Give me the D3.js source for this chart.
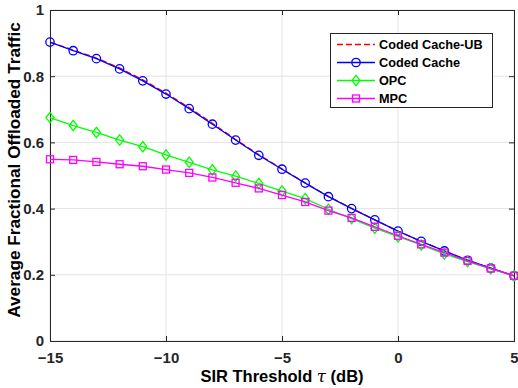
<!DOCTYPE html>
<html><head><meta charset="utf-8">
<script src="https://cdn.jsdelivr.net/npm/d3@7"></script>
<style>body{margin:0;background:#fff}svg{display:block;font-family:"Liberation Sans",Arial,sans-serif}</style>
</head><body>
<svg id="c" width="518" height="388"></svg>
<script>
const xs = [-15,-14,-13,-12,-11,-10,-9,-8,-7,-6,-5,-4,-3,-2,-1,0,1,2,3,4,5];
const codedUB = [0.903,0.879,0.855,0.825,0.789,0.749,0.705,0.658,0.609,0.563,0.520,0.478,0.437,0.401,0.366,0.332,0.301,0.272,0.244,0.220,0.197];
const coded   = [0.903,0.877,0.853,0.822,0.786,0.746,0.702,0.655,0.607,0.561,0.519,0.477,0.436,0.400,0.366,0.332,0.301,0.272,0.244,0.220,0.197];
const opc     = [0.675,0.651,0.630,0.607,0.587,0.562,0.540,0.517,0.498,0.476,0.453,0.430,0.398,0.370,0.341,0.315,0.290,0.263,0.240,0.218,0.197];
const mpc     = [0.549,0.547,0.541,0.534,0.528,0.518,0.508,0.494,0.478,0.461,0.441,0.420,0.394,0.372,0.345,0.318,0.292,0.267,0.242,0.219,0.197];
const xTicks = [-15,-10,-5,0,5];
const yTicks = [0,0.2,0.4,0.6,0.8,1];
const yTickLabels = ["0","0.2","0.4","0.6","0.8","1"];
const seriesNames = ["Coded Cache-UB","Coded Cache","OPC","MPC"];
const seriesColors = ["#ff0000","#0000ff","#00ff00","#ff00ff"];

const svg = d3.select("#c");
const L=50,R=514,T=10,B=341;
const x = d3.scaleLinear().domain([-15,5]).range([L,R]);
const y = d3.scaleLinear().domain([0,1]).range([B,T]);

// grid
const g = svg.append("g");
xTicks.forEach(t=>g.append("line").attr("x1",x(t)).attr("x2",x(t)).attr("y1",T).attr("y2",B).attr("stroke","#e3e3e3").attr("stroke-width",1));
yTicks.forEach(t=>g.append("line").attr("x1",L).attr("x2",R).attr("y1",y(t)).attr("y2",y(t)).attr("stroke","#e3e3e3").attr("stroke-width",1));

// axes
const ax = "#262626";
const xb = svg.append("g").attr("transform",`translate(0,${B})`).call(d3.axisBottom(x).tickValues(xTicks).tickSize(-5).tickPadding(9).tickFormat(d3.format("d")));
const xt = svg.append("g").attr("transform",`translate(0,${T})`).call(d3.axisTop(x).tickValues(xTicks).tickSize(-5).tickFormat(""));
const yl = svg.append("g").attr("transform",`translate(${L},0)`).call(d3.axisLeft(y).tickValues(yTicks).tickSize(-5).tickPadding(6).tickFormat((d,i)=>yTickLabels[i]));
const yr = svg.append("g").attr("transform",`translate(${R},0)`).call(d3.axisRight(y).tickValues(yTicks).tickSize(-5).tickFormat(""));
[xb,xt,yl,yr].forEach(a=>{
  a.select(".domain").attr("stroke",ax).attr("stroke-width",1);
  a.selectAll(".tick line").attr("stroke",ax);
  a.selectAll("text").attr("fill",ax).style("font-size","15px").style("font-weight","bold").style("font-family","'Liberation Sans',Arial,sans-serif");
});
xb.selectAll("text").attr("dy","0.85em");

// series
const data = [codedUB,coded,opc,mpc];
const line = d3.line().x((d,i)=>x(xs[i])).y(d=>y(d));
function marker(sel,k,cx,cy){
  const c=seriesColors[k];
  if(k===1) sel.append("circle").attr("cx",cx).attr("cy",cy).attr("r",4.2).attr("fill","none").attr("stroke",c).attr("stroke-width",1.3);
  if(k===2) sel.append("path").attr("d",`M${cx},${cy-5.2}L${cx+4},${cy}L${cx},${cy+5.2}L${cx-4},${cy}Z`).attr("fill","none").attr("stroke",c).attr("stroke-width",1.3);
  if(k===3) sel.append("rect").attr("x",cx-3.5).attr("y",cy-3.5).attr("width",7).attr("height",7).attr("fill","none").attr("stroke",c).attr("stroke-width",1.3);
}
[0,1,2,3].forEach(k=>{
  svg.append("path").datum(data[k]).attr("d",line).attr("fill","none")
    .attr("stroke",seriesColors[k]).attr("stroke-width",1.3)
    .attr("stroke-dasharray",k===0?"6,3":null);
  if(k>0){
    const gg=svg.append("g");
    data[k].forEach((v,i)=>marker(gg,k,x(xs[i]),y(v)));
  }
});

// legend
const lg = svg.append("g");
lg.append("rect").attr("x",330.5).attr("y",33.5).attr("width",162).attr("height",74).attr("fill","#fff").attr("stroke","#262626").attr("stroke-width",1);
seriesNames.forEach((n,k)=>{
  const yy=44.5+k*18;
  lg.append("line").attr("x1",337).attr("x2",375).attr("y1",yy).attr("y2",yy).attr("stroke",seriesColors[k]).attr("stroke-width",1.3).attr("stroke-dasharray",k===0?"6,3":null);
  marker(lg,k,356,yy);
  lg.append("text").attr("x",379).attr("y",yy+4.5).text(n).attr("fill","#000").style("font-size","12.7px").style("font-weight","bold");
});

// axis titles
const xtitle = svg.append("text").attr("x",(L+R)/2).attr("y",382).attr("text-anchor","middle").style("font-size","16.5px").style("font-weight","bold").attr("fill","#000");
xtitle.append("tspan").text("SIR Threshold ");
xtitle.append("tspan").text("τ").style("font-style","italic").style("font-weight","normal").style("font-family","'DejaVu Serif',serif");
xtitle.append("tspan").text(" (dB)");
svg.append("text").attr("transform",`translate(20,170) rotate(-90)`).attr("text-anchor","middle").style("font-size","17.2px").style("font-weight","bold").attr("fill","#000").text("Average Fractional Offloaded Traffic");
</script>
</body></html>
